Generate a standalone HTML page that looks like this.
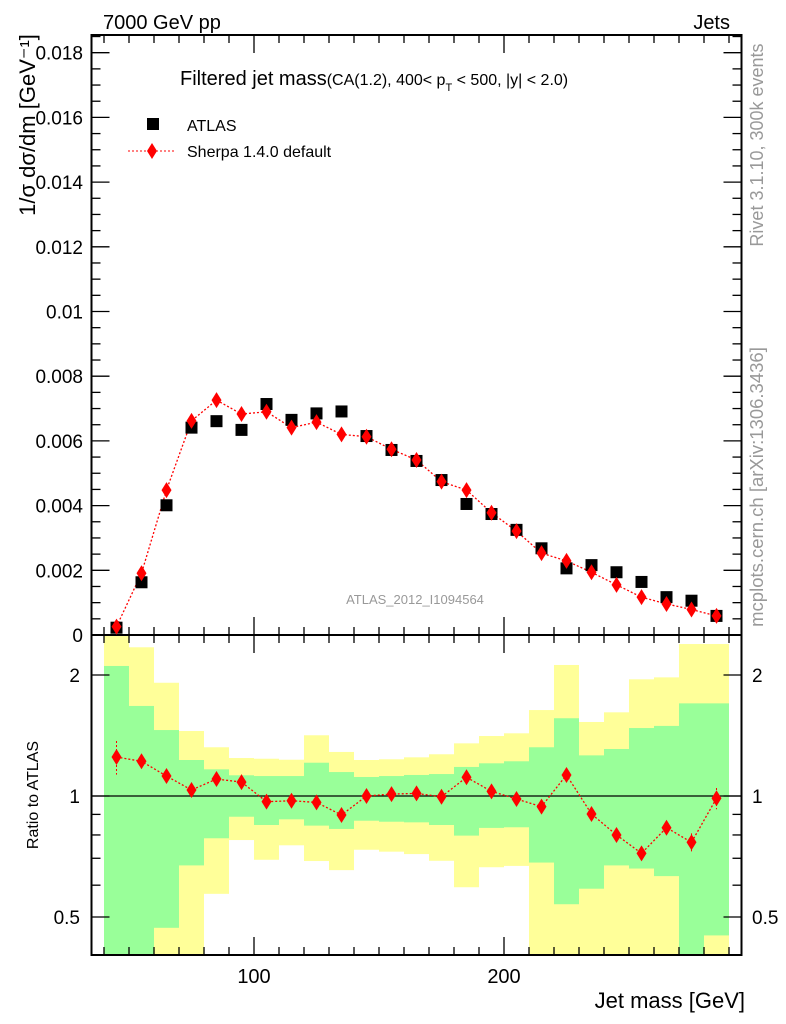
<!DOCTYPE html>
<html><head><meta charset="utf-8"><style>
body{margin:0;background:#fff;}
svg{display:block;font-family:"Liberation Sans",sans-serif;}
</style></head><body>
<svg id="chart" width="786" height="1024" viewBox="0 0 786 1024">
<g id="bands"></g>
<g id="axes"></g>
<g id="marks"></g>
<text x="103" y="29" font-size="20">7000 GeV pp</text>
<text x="730" y="29" font-size="20" text-anchor="end">Jets</text>
<text x="180" y="85" font-size="20">Filtered jet mass<tspan font-size="16">(CA(1.2), 400&lt; p</tspan><tspan font-size="11" dy="6">T</tspan><tspan font-size="16" dy="-6"> &lt; 500, |y| &lt; 2.0)</tspan></text>
<rect x="147" y="118" width="12" height="12" fill="#000"/>
<text x="187" y="131" font-size="16">ATLAS</text>
<line x1="128" y1="151" x2="176" y2="151" stroke="red" stroke-dasharray="2,2" stroke-width="1"/>
<polygon points="152,143 157,151 152,159 147,151" fill="red"/>
<text x="187" y="157" font-size="16">Sherpa 1.4.0 default</text>
<text transform="translate(35,125) rotate(-90)" font-size="22" text-anchor="middle">1/σ dσ/dm [GeV⁻¹]</text>
<text transform="translate(38,795) rotate(-90)" font-size="16" text-anchor="middle">Ratio to ATLAS</text>
<text x="745" y="1008" font-size="22" text-anchor="end">Jet mass [GeV]</text>
<text x="415" y="604" font-size="13" fill="#999" text-anchor="middle">ATLAS_2012_I1094564</text>
<text transform="translate(763,145) rotate(-90)" font-size="18" fill="#999" text-anchor="middle">Rivet 3.1.10,  300k events</text>
<text transform="translate(763,487) rotate(-90)" font-size="18.5" fill="#999" text-anchor="middle">mcplots.cern.ch [arXiv:1306.3436]</text>
</svg>
<script>
const binCenters=[45,55,65,75,85,95,105,115,125,135,145,155,165,175,185,195,205,215,225,235,245,255,265,275,285];
const atlasValues=[0.000226,0.00163,0.00401,0.00641,0.00661,0.00634,0.00714,0.00665,0.00685,0.00691,0.00615,0.00572,0.00538,0.00479,0.00405,0.00374,0.00325,0.00268,0.00206,0.00216,0.00194,0.00164,0.00117,0.00106,0.00059];
const sherpaValues=[0.000258,0.00191,0.00448,0.00662,0.00726,0.00683,0.0069,0.00641,0.00658,0.0062,0.00613,0.00574,0.00541,0.00474,0.00448,0.00378,0.00321,0.00253,0.00229,0.00194,0.00155,0.00117,0.00096,0.00079,0.00059];
const ratioValues=[1.25,1.22,1.121,1.035,1.102,1.083,0.968,0.973,0.964,0.897,1.0,1.011,1.015,0.996,1.113,1.027,0.983,0.941,1.128,0.902,0.80,0.72,0.834,0.767,0.987];
const ratioErrors=[0.12,0.04,0.02,0.02,0.02,0.02,0.02,0.02,0.02,0.02,0.02,0.02,0.02,0.02,0.02,0.02,0.02,0.02,0.03,0.03,0.03,0.03,0.03,0.04,0.06];
const yellowTop=[2.6,2.344,1.913,1.451,1.322,1.243,1.238,1.231,1.416,1.287,1.229,1.234,1.248,1.270,1.352,1.410,1.432,1.636,2.118,1.528,1.615,1.951,1.973,2.388,2.388];
const greenTop=[2.106,1.675,1.459,1.229,1.165,1.126,1.121,1.121,1.210,1.147,1.115,1.121,1.128,1.134,1.181,1.206,1.220,1.322,1.561,1.262,1.309,1.476,1.494,1.700,1.700];
const greenBottom=[0.3,0.3,0.470,0.672,0.785,0.888,0.847,0.875,0.844,0.828,0.868,0.863,0.860,0.847,0.797,0.833,0.836,0.683,0.538,0.588,0.672,0.660,0.632,0.3,0.450];
const yellowBottom=[0.3,0.3,0.3,0.3,0.571,0.777,0.694,0.754,0.689,0.654,0.735,0.727,0.717,0.690,0.593,0.665,0.670,0.3,0.3,0.3,0.3,0.3,0.3,0.3,0.3];
const mainTicks=[0,0.002,0.004,0.006,0.008,0.01,0.012,0.014,0.016,0.018];
const mainTickLabels=["0","0.002","0.004","0.006","0.008","0.01","0.012","0.014","0.016","0.018"];
const ratioTicks=[0.5,1,2];
const ratioTickLabels=["0.5","1","2"];
const xTicks=[100,200];
const xTickLabels=["100","200"];

const NS="http://www.w3.org/2000/svg";
const L=91.5,R=741.5,T=35,MB=635,RB=955;
const xs=v=>L+(v-35)*(R-L)/260;
const ym=v=>MB-v*32350;
const yr=v=>{let y=796-Math.log10(v)*402;return Math.max(T+600,Math.min(RB,y));};
function mk(tag,attrs,parent){const e=document.createElementNS(NS,tag);for(const k in attrs)e.setAttribute(k,attrs[k]);parent.appendChild(e);return e;}
const bands=document.getElementById('bands'),axes=document.getElementById('axes'),marks=document.getElementById('marks');
const bw=10;
binCenters.forEach((c,i)=>{
  const x0=xs(c-bw/2),x1=xs(c+bw/2);
  let r=mk('rect',{x:x0,y:yr(yellowTop[i]),width:x1-x0,height:yr(yellowBottom[i])-yr(yellowTop[i]),fill:'#ffff99'},bands);
  
  
  let g=mk('rect',{x:x0,y:yr(greenTop[i]),width:x1-x0,height:yr(greenBottom[i])-yr(greenTop[i]),fill:'#99ff99'},bands);
  
  
});
mk('rect',{x:L,y:T,width:R-L,height:MB-T,fill:'none',stroke:'#000','stroke-width':2},axes);
mk('rect',{x:L,y:MB,width:R-L,height:RB-MB,fill:'none',stroke:'#000','stroke-width':2},axes);
mk('line',{x1:L,y1:796,x2:R,y2:796,stroke:'#000','stroke-width':1.3},axes);
for(let v=40;v<=290;v+=10){
  const major=v%100===0,len=major?18:8;
  [MB,RB].forEach(yb=>{mk('line',{x1:xs(v),y1:yb,x2:xs(v),y2:yb-len,stroke:'#000','stroke-width':1.3},axes);});
  mk('line',{x1:xs(v),y1:MB,x2:xs(v),y2:MB+len,stroke:'#000','stroke-width':1.3},axes);
  mk('line',{x1:xs(v),y1:T,x2:xs(v),y2:T+len,stroke:'#000','stroke-width':1.3},axes);
}
xTicks.forEach((v,i)=>{const t=mk('text',{x:xs(v),y:983,'font-size':20,'text-anchor':'middle'},axes);t.textContent=xTickLabels[i];

});
for(let k=0;k<=37;k++){const v=k*0.0005,y=ym(v);if(y<T)break;const len=k%4===0?18:9;
  mk('line',{x1:L,y1:y,x2:L+len,y2:y,stroke:'#000','stroke-width':1.3},axes);
  mk('line',{x1:R,y1:y,x2:R-len,y2:y,stroke:'#000','stroke-width':1.3},axes);}
mainTicks.forEach((v,i)=>{const t=mk('text',{x:83,y:ym(v)+7,'font-size':19,'text-anchor':'end'},axes);t.textContent=mainTickLabels[i];

});
[0.5,0.6,0.7,0.8,0.9,1,2].forEach(v=>{const y=yr(v),len=(v===1||v===2||v===0.5)?18:9;
  mk('line',{x1:L,y1:y,x2:L+len,y2:y,stroke:'#000','stroke-width':1.3},axes);
  mk('line',{x1:R,y1:y,x2:R-len,y2:y,stroke:'#000','stroke-width':1.3},axes);});
ratioTicks.forEach((v,i)=>{[[80,'end'],[752,'start']].forEach(([x,a])=>{const t=mk('text',{x:x,y:yr(v)+7,'font-size':19,'text-anchor':a},axes);t.textContent=ratioTickLabels[i];

});});
let pts=binCenters.map((c,i)=>xs(c)+','+ym(sherpaValues[i])).join(' ');
let pl=mk('polyline',{points:pts,fill:'none',stroke:'red','stroke-width':1.3,'stroke-dasharray':'2,2'},marks);


binCenters.forEach((c,i)=>{
  const x=xs(c),y=ym(atlasValues[i]);
  const s=mk('rect',{x:x-6,y:y-6,width:12,height:12,fill:'#000'},marks);
  
  
  const y2=ym(sherpaValues[i]);
  const d=mk('polygon',{points:`${x},${y2-8} ${x+5},${y2} ${x},${y2+8} ${x-5},${y2}`,fill:'red'},marks);
  
  
});
pts=binCenters.map((c,i)=>xs(c)+','+yr(ratioValues[i])).join(' ');
pl=mk('polyline',{points:pts,fill:'none',stroke:'red','stroke-width':1.3,'stroke-dasharray':'2,2'},marks);


binCenters.forEach((c,i)=>{
  const x=xs(c),y=yr(ratioValues[i]);
  const e=mk('line',{x1:x,y1:yr(ratioValues[i]+ratioErrors[i]),x2:x,y2:yr(ratioValues[i]-ratioErrors[i]),stroke:'red','stroke-width':1,'stroke-dasharray':'2,2'},marks);
  
  
  const d=mk('polygon',{points:`${x},${y-8} ${x+5},${y} ${x},${y+8} ${x-5},${y}`,fill:'red'},marks);
  
  
});
</script>
</body></html>
